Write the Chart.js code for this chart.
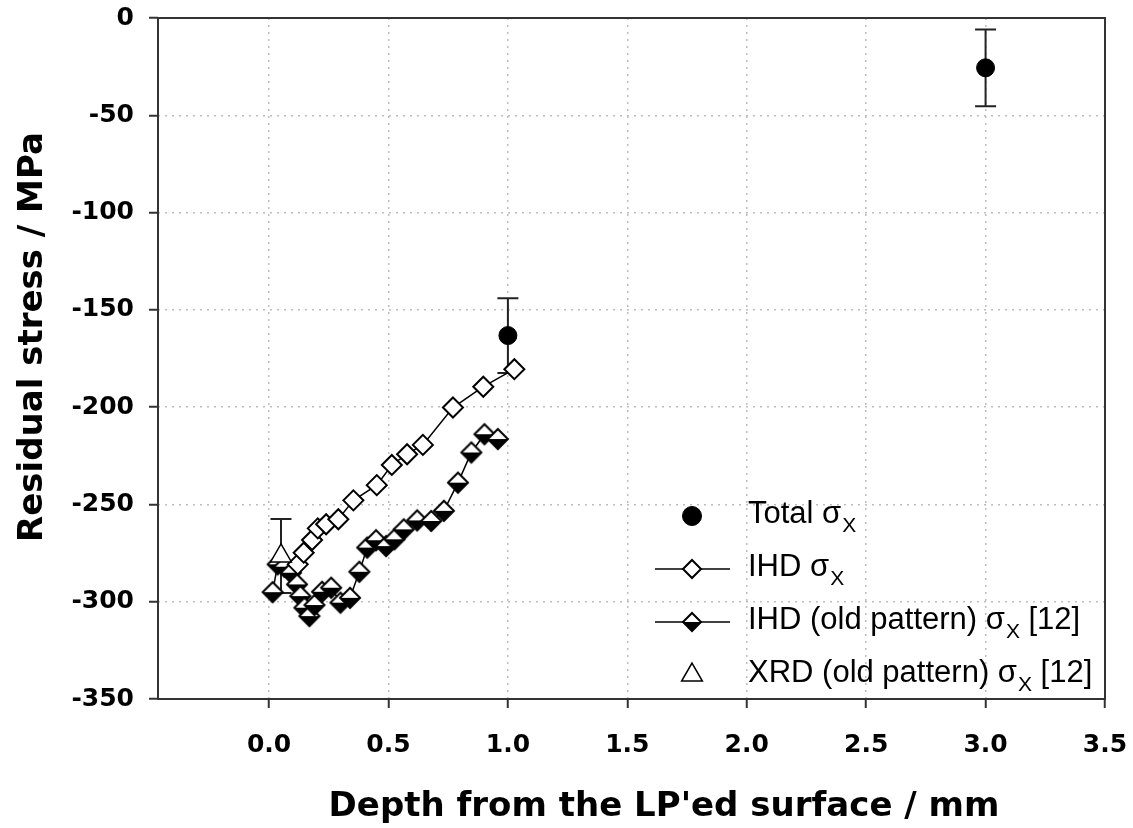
<!DOCTYPE html>
<html><head><meta charset="utf-8">
<script src="https://cdn.jsdelivr.net/npm/chart.js@4.4.0/dist/chart.umd.min.js"></script>
<style>html,body{margin:0;padding:0;background:#fff;}canvas{display:block;}</style>
</head><body>
<canvas id="c" width="1133" height="828"></canvas>
<script>
// ---- data ----
const totalDepth = [1.0, 3.0];
const totalStress = [-163.2, -25.6];
const totalError = [19.2, 19.7];

const ihdDepth = [0.120, 0.145, 0.180, 0.204, 0.239, 0.290, 0.353, 0.451, 0.514, 0.578, 0.644, 0.770, 0.897, 1.027];
const ihdStress = [-280.8, -274.8, -268.3, -262.3, -260.2, -257.6, -247.9, -240.1, -229.7, -224.2, -219.4, -200.2, -189.5, -180.5];

const oldDepth = [0.015, 0.036, 0.064, 0.092, 0.117, 0.131, 0.148, 0.169, 0.190, 0.222, 0.260, 0.299, 0.339, 0.378, 0.411, 0.448, 0.490, 0.525, 0.564, 0.620, 0.679, 0.732, 0.791, 0.847, 0.902, 0.958];
const oldStress = [-295.1, -280.8, -282.0, -285.1, -291.1, -297.1, -303.1, -307.4, -301.7, -294.9, -292.8, -300.5, -298.0, -284.6, -272.2, -268.4, -271.4, -267.9, -262.8, -258.2, -258.5, -253.3, -238.8, -223.3, -213.9, -216.4];

const xrdDepth = [0.05];
const xrdStress = [-276.5];
const xrdError = [19.0];

const xTickValues = [0.0, 0.5, 1.0, 1.5, 2.0, 2.5, 3.0, 3.5];
const yTickValues = [0, -50, -100, -150, -200, -250, -300, -350];

const seriesLabels = ['Total σ', 'IHD σ', 'IHD (old pattern) σ', 'XRD (old pattern) σ'];
const seriesSub = 'X';
const seriesSuffix = ['', '', ' [12]', ' [12]'];
const xTitle = "Depth from the LP'ed surface / mm";
const yTitle = 'Residual stress / MPa';

// ---- marker: half-filled diamond ----
function makeHalfDiamond(r, lw) {
  const s = Math.ceil(2 * r + lw * 2 + 2);
  const c = document.createElement('canvas');
  c.width = s; c.height = s;
  const g = c.getContext('2d');
  const m = s / 2;
  g.beginPath(); g.moveTo(m - r, m); g.lineTo(m, m - r); g.lineTo(m + r, m); g.closePath();
  g.fillStyle = '#fff'; g.fill();
  g.beginPath(); g.moveTo(m - r, m); g.lineTo(m, m + r); g.lineTo(m + r, m); g.closePath();
  g.fillStyle = '#000'; g.fill();
  g.beginPath(); g.moveTo(m - r, m); g.lineTo(m, m - r); g.lineTo(m + r, m); g.lineTo(m, m + r); g.closePath();
  g.lineWidth = lw; g.strokeStyle = '#000'; g.stroke();
  return c;
}
const halfDiamond = makeHalfDiamond(10, 2);
const halfDiamondLegend = makeHalfDiamond(9, 2);

const pts = (xs, ys) => xs.map((x, i) => ({ x: x, y: ys[i] }));

// ---- plugins ----
const errorBars = {
  id: 'errorBars',
  beforeDatasetsDraw(chart) {
    const ctx = chart.ctx, xs = chart.scales.x, ys = chart.scales.y;
    chart.data.datasets.forEach(ds => {
      if (!ds.errors) return;
      ds.data.forEach((p, i) => {
        const e = ds.errors[i];
        const px = xs.getPixelForValue(p.x);
        const t = ys.getPixelForValue(p.y + e), b = ys.getPixelForValue(p.y - e);
        ctx.save();
        ctx.strokeStyle = '#222'; ctx.lineWidth = 2;
        ctx.beginPath();
        ctx.moveTo(px, t); ctx.lineTo(px, b);
        ctx.moveTo(px - 10.5, t); ctx.lineTo(px + 10.5, t);
        ctx.moveTo(px - 10.5, b); ctx.lineTo(px + 10.5, b);
        ctx.stroke();
        ctx.restore();
      });
    });
  }
};

const frame = {
  id: 'frame',
  beforeDatasetsDraw(chart) {
    const a = chart.chartArea, ctx = chart.ctx;
    ctx.save();
    ctx.strokeStyle = '#333'; ctx.lineWidth = 2;
    ctx.strokeRect(a.left, a.top, a.right - a.left, a.bottom - a.top);
    ctx.restore();
  }
};

const legendBox = {
  id: 'legendBox',
  afterDatasetsDraw(chart) {
    const ctx = chart.ctx;
    const symX = 692, textX = 748, base0 = 523, step = 53;
    chart.data.datasets.forEach((ds, i) => {
      const base = base0 + i * step;
      const cy = base - 7;
      ctx.save();
      if (ds.showLine) {
        ctx.strokeStyle = '#000'; ctx.lineWidth = 1.5;
        ctx.beginPath(); ctx.moveTo(655, cy); ctx.lineTo(730, cy); ctx.stroke();
      }
      ctx.fillStyle = ds.backgroundColor || '#000';
      ctx.strokeStyle = ds.borderColor || '#000';
      ctx.lineWidth = ds.pointBorderWidth || 2;
      const style = ds.legendStyle || ds.pointStyle;
      Chart.helpers.drawPoint(ctx, { pointStyle: style, radius: ds.legendRadius, rotation: 0, borderWidth: ctx.lineWidth }, symX, cy);
      ctx.restore();
      ctx.save();
      ctx.fillStyle = '#000';
      ctx.textBaseline = 'alphabetic'; ctx.textAlign = 'left';
      ctx.font = '31px "Liberation Sans", Arial, sans-serif';
      ctx.fillText(seriesLabels[i], textX, base);
      let x = textX + ctx.measureText(seriesLabels[i]).width + 1;
      ctx.font = '21px "Liberation Sans", Arial, sans-serif';
      ctx.fillText(seriesSub, x, base + 9);
      x += ctx.measureText(seriesSub).width;
      ctx.font = '31px "Liberation Sans", Arial, sans-serif';
      ctx.fillText(seriesSuffix[i], x, base);
      ctx.restore();
    });
  }
};

const axisTitles = {
  id: 'axisTitles',
  afterDraw(chart) {
    const ctx = chart.ctx;
    ctx.save();
    ctx.fillStyle = '#000';
    ctx.font = 'bold 34px "DejaVu Sans", sans-serif';
    ctx.textAlign = 'center'; ctx.textBaseline = 'alphabetic';
    ctx.fillText(xTitle, 664, 816);
    ctx.translate(42, 337);
    ctx.rotate(-Math.PI / 2);
    ctx.fillText(yTitle, 0, 0);
    ctx.restore();
  }
};

const tickFont = { family: '"DejaVu Sans", sans-serif', size: 25, weight: 'bold' };

new Chart(document.getElementById('c'), {
  type: 'scatter',
  data: {
    datasets: [
      { label: seriesLabels[0], data: pts(totalDepth, totalStress), errors: totalError,
        pointStyle: 'circle', pointRadius: 9, legendRadius: 9.5, backgroundColor: '#000', borderColor: '#000',
        pointBorderWidth: 1, showLine: false, order: 1 },
      { label: seriesLabels[1], data: pts(ihdDepth, ihdStress),
        pointStyle: 'rectRot', pointRadius: 10, legendRadius: 9, backgroundColor: '#fff', borderColor: '#000',
        pointBorderWidth: 2, borderWidth: 1.5, showLine: true, order: 2 },
      { label: seriesLabels[2], data: pts(oldDepth, oldStress),
        pointStyle: halfDiamond, legendStyle: halfDiamondLegend, pointRadius: 10, legendRadius: 9,
        backgroundColor: '#000', borderColor: '#000', pointBorderWidth: 2, borderWidth: 1.5, showLine: true, order: 3 },
      { label: seriesLabels[3], data: pts(xrdDepth, xrdStress), errors: xrdError,
        pointStyle: 'triangle', pointRadius: 12, legendRadius: 12, backgroundColor: '#fff', borderColor: '#000',
        pointBorderWidth: 1.5, showLine: false, order: 0 }
    ]
  },
  options: {
    responsive: false,
    animation: false,
    devicePixelRatio: 1,
    events: [],
    layout: { padding: { left: 0, top: 18, right: 28, bottom: 0 } },
    plugins: { legend: { display: false }, tooltip: { enabled: false }, title: { display: false } },
    scales: {
      x: {
        type: 'linear', min: -0.465, max: 3.5,
        afterBuildTicks: s => { s.ticks = xTickValues.map(v => ({ value: v })); },
        afterFit: s => { s.height = 129; s.paddingLeft = 0; s.paddingRight = 0; },
        ticks: { font: tickFont, color: '#000', padding: 22, maxRotation: 0, autoSkip: false,
                 callback: v => Number(v).toFixed(1) },
        grid: { color: '#bdbdbd', lineWidth: 1.5, tickColor: '#333', tickLength: 9, tickWidth: 2 },
        border: { display: false, dash: [2, 5] }
      },
      y: {
        type: 'linear', min: -350, max: 0,
        afterBuildTicks: s => { s.ticks = yTickValues.map(v => ({ value: v })); },
        afterFit: s => { s.width = 158; s.paddingTop = 0; s.paddingBottom = 0; },
        ticks: { font: tickFont, color: '#000', padding: 15, autoSkip: false, callback: v => String(v) },
        grid: { color: '#bdbdbd', lineWidth: 1.5, tickColor: '#333', tickLength: 9, tickWidth: 2 },
        border: { display: false, dash: [2, 5] }
      }
    }
  },
  plugins: [errorBars, frame, legendBox, axisTitles]
});
</script>
</body></html>
